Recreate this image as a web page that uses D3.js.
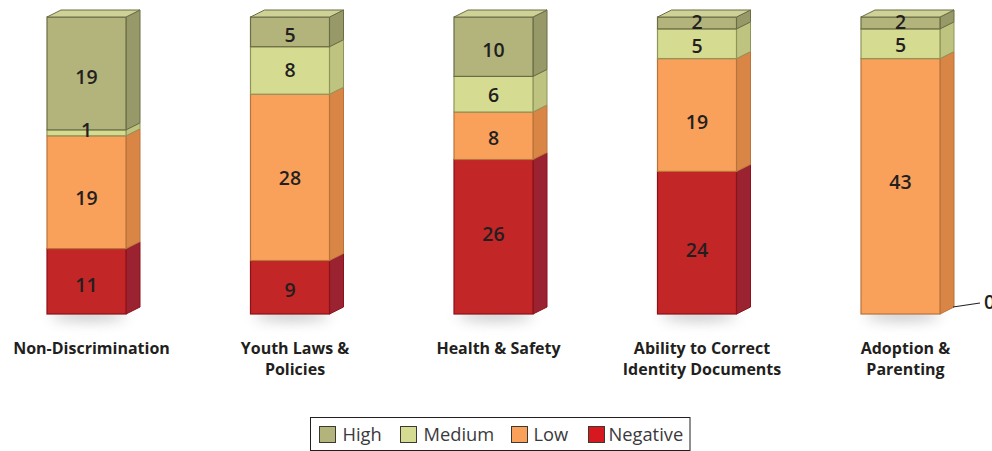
<!DOCTYPE html>
<html>
<head>
<meta charset="utf-8">
<script src="https://cdn.jsdelivr.net/npm/d3@7"></script>
<style>
    html, body { margin: 0; padding: 0; background: #fff; overflow: hidden; }
    text { font-family: "Open Sans", sans-serif; fill: #231f20; }
</style>
</head>
<body>
<div id="vis"></div>
<script>
/* Data -------------------------------------------------------------------- */

const categories = ["Non-Discrimination", "Youth Laws & Policies", "Health & Safety",
    "Ability to Correct Identity Documents", "Adoption & Parenting"];
const categoryLines = [["Non-Discrimination"], ["Youth Laws &", "Policies"], ["Health & Safety"],
    ["Ability to Correct", "Identity Documents"], ["Adoption &", "Parenting"]];
const high = [19, 5, 10, 2, 2];
const medium = [1, 8, 6, 5, 5];
const low = [19, 28, 8, 19, 43];
const negative = [11, 9, 26, 24, 0];
const levels = ["Negative", "Low", "Medium", "High"];
const legendOrder = ["High", "Medium", "Low", "Negative"];

/* Styles ------------------------------------------------------------------ */

const colors = {
    High: {front: "#b2b47c", side: "#979a68", top: "#cfd297", line: "#6b6d45", key: "#b2b47c"},
    Medium: {front: "#d5dc92", side: "#bfc380", top: "#e0e4ae", line: "#8f9458", key: "#d5dc92"},
    Low: {front: "#f9a15b", side: "#d98546", top: "#fbc08f", line: "#b8733a", key: "#f9a15b"},
    Negative: {front: "#c32626", side: "#9b2230", top: "#d85050", line: "#8c1118", key: "#d7181f"}
};

const width = 992, height = 451;
const depthX = 14, depthY = 7;
const barWidth = 79;

// The value labels in the original don't sit exactly mid-segment (pixels)
const labelNudge = {
    High: [4, 3, 3, -1, -1],
    Medium: [-3, 0, 1, 2, 1],
    Low: [6, 1, 2, 7, -4],
    Negative: [4, 3, -3, 7, 0]
};

/* Draw graphic ------------------------------------------------------------ */

const rows = categories.map((c, i) => ({
    key: c, lines: categoryLines[i],
    High: high[i], Medium: medium[i], Low: low[i], Negative: negative[i]
}));

const stacked = d3.stack().keys(levels)(rows);

const xScale = d3.scalePoint()
    .domain(categories)
    .range([86.5, 900.5]);

const yScale = d3.scaleLinear()
    .domain([0, 50])
    .range([314, 17]);

const vis = d3.select("#vis").append("svg")
    .attr("width", width)
    .attr("height", height);

// Soft shadow under each column
const defs = vis.append("defs");
defs.append("filter")
    .attr("id", "blur")
    .attr("x", "-50%").attr("y", "-300%")
    .attr("width", "200%").attr("height", "700%")
    .append("feGaussianBlur")
    .attr("stdDeviation", 7);

vis.selectAll(".shadow")
    .data(rows)
    .enter()
    .append("ellipse")
    .attr("class", "shadow")
    .attr("cx", d => xScale(d.key) + 2)
    .attr("cy", yScale(0) + 1)
    .attr("rx", barWidth / 2 - 2)
    .attr("ry", 5)
    .attr("fill", "#8b8d92")
    .attr("opacity", 0.6)
    .attr("filter", "url(#blur)");

// Segments, bottom to top
const segmentData = stacked.flatMap(layer => layer
    .map((s, i) => ({level: layer.key, index: i, key: categories[i], y0: s[0], y1: s[1]}))
    .filter(d => d.y1 > d.y0));

const segments = vis.selectAll(".segment")
    .data(segmentData)
    .enter()
    .append("g")
    .attr("class", "segment");

// Side face
segments.append("path")
    .attr("d", d => {
        const xr = xScale(d.key) + barWidth / 2;
        const yt = yScale(d.y1), yb = yScale(d.y0);
        return `M${xr},${yt}L${xr + depthX},${yt - depthY}L${xr + depthX},${yb - depthY}L${xr},${yb}Z`;
    })
    .attr("fill", d => colors[d.level].side)
    .attr("stroke", d => colors[d.level].line)
    .attr("stroke-width", 1);

// Front face
segments.append("rect")
    .attr("x", d => xScale(d.key) - barWidth / 2)
    .attr("y", d => yScale(d.y1))
    .attr("width", barWidth)
    .attr("height", d => yScale(d.y0) - yScale(d.y1))
    .attr("fill", d => colors[d.level].front)
    .attr("stroke", d => colors[d.level].line)
    .attr("stroke-width", 1.2);

// Top face of each column
vis.selectAll(".top")
    .data(rows)
    .enter()
    .append("path")
    .attr("class", "top")
    .attr("d", d => {
        const xl = xScale(d.key) - barWidth / 2, xr = xl + barWidth, yt = yScale(50);
        return `M${xl},${yt}L${xl + depthX},${yt - depthY}L${xr + depthX},${yt - depthY}L${xr},${yt}Z`;
    })
    .attr("fill", colors.High.top)
    .attr("stroke", colors.High.line)
    .attr("stroke-width", 1);

// Value labels, drawn last so thin segments don't cover them
vis.selectAll(".value")
    .data(segmentData)
    .enter()
    .append("text")
    .attr("class", "value")
    .attr("x", d => xScale(d.key))
    .attr("y", d => yScale((d.y0 + d.y1) / 2) + labelNudge[d.level][d.index])
    .attr("dy", "0.36em")
    .attr("text-anchor", "middle")
    .style("font-size", "19.5px")
    .style("font-weight", 600)
    .text(d => d.y1 - d.y0);

// Zero label with leader line
const zeroRows = rows.filter(d => d.Negative === 0);

vis.selectAll(".leader")
    .data(zeroRows)
    .enter()
    .append("line")
    .attr("class", "leader")
    .attr("x1", d => xScale(d.key) + barWidth / 2 + depthX - 1)
    .attr("y1", yScale(0) - depthY)
    .attr("x2", d => xScale(d.key) + barWidth / 2 + depthX + 26)
    .attr("y2", yScale(0) - depthY - 4)
    .attr("stroke", "#231f20")
    .attr("stroke-width", 1.2);

vis.selectAll(".zero")
    .data(zeroRows)
    .enter()
    .append("text")
    .attr("class", "zero")
    .attr("x", d => xScale(d.key) + barWidth / 2 + depthX + 30)
    .attr("y", yScale(0) - depthY - 5)
    .attr("dy", "0.36em")
    .style("font-size", "19.5px")
    .style("font-weight", 600)
    .text(d => d.Negative);

// Category labels
const labels = vis.selectAll(".category")
    .data(rows)
    .enter()
    .append("text")
    .attr("class", "category")
    .attr("text-anchor", "middle")
    .style("font-size", "16px")
    .style("font-weight", 700);

labels.selectAll("tspan")
    .data(d => d.lines.map((line, i) => ({line, i, key: d.key})))
    .enter()
    .append("tspan")
    .attr("x", d => xScale(d.key) + 5)
    .attr("y", d => 354 + d.i * 21)
    .text(d => d.line);

// Legend
const legend = vis.append("g").attr("class", "legend");

legend.append("rect")
    .attr("x", 310.5)
    .attr("y", 417.5)
    .attr("width", 379.5)
    .attr("height", 33)
    .attr("fill", "#fff")
    .attr("stroke", "#231f20")
    .attr("stroke-width", 1);

const legendX = d3.scaleOrdinal()
    .domain(legendOrder)
    .range([319.5, 400.5, 511.5, 588.5]);

const legendTextX = d3.scaleOrdinal()
    .domain(legendOrder)
    .range([23, 23, 22, 20]);

const legendItems = legend.selectAll(".legend-item")
    .data(legendOrder)
    .enter()
    .append("g")
    .attr("class", "legend-item")
    .attr("transform", d => `translate(${legendX(d)},426.5)`);

legendItems.append("rect")
    .attr("width", 16)
    .attr("height", 16)
    .attr("fill", d => colors[d].key)
    .attr("stroke", "#3a3a32")
    .attr("stroke-width", 1);

legendItems.append("text")
    .attr("x", d => legendTextX(d))
    .attr("y", 14)
    .style("font-size", "18.3px")
    .style("fill", "#3a3a3c")
    .text(d => d);
</script>
</body>
</html>
